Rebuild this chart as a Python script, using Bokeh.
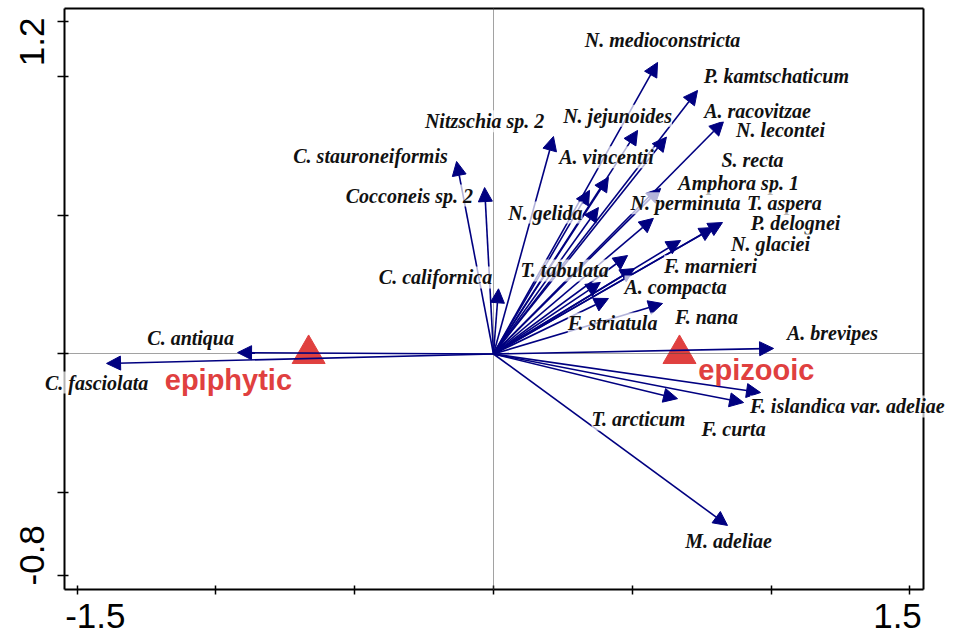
from bokeh.plotting import figure
from bokeh.models import (Arrow, NormalHead, ColumnDataSource, LabelSet,
                          Range1d, FixedTicker, LinearAxis)
from bokeh.core.properties import value
from bokeh.embed import file_html
from bokeh.resources import INLINE
import math

# ---------------- data ----------------
species = ["C. fasciolata", "C. antiqua", "C. stauroneiformis", "Cocconeis sp. 2",
           "C. californica", "Nitzschia sp. 2", "N. medioconstricta", "P. kamtschaticum",
           "A. racovitzae", "N. lecontei", "N. jejunoides", "A. vincentii", "N. gelida",
           "Amphora sp. 1", "S. recta", "N. perminuta", "T. aspera", "P. delognei",
           "N. glaciei", "F. marnieri", "T. tabulata", "A. compacta", "F. striatula",
           "F. nana", "A. brevipes", "F. islandica var. adeliae", "F. curta",
           "T. arcticum", "M. adeliae"]
axis1 = [-1.394, -0.922, -0.133, -0.032, 0.018, 0.216, 0.591, 0.735,
         0.829, 0.623, 0.519, 0.414, 0.346,
         0.602, 0.576, 0.378, 0.793, 0.825,
         0.674, 0.508, 0.483, 0.414, 0.385,
         0.609, 1.009, 0.962, 0.901,
         0.663, 0.843]
axis2 = [-0.034, 0.005, 0.694, 0.600, 0.235, 0.784, 1.051, 0.950,
         0.839, 0.782, 0.806, 0.637, 0.590,
         0.597, 0.489, 0.528, 0.456, 0.474,
         0.409, 0.308, 0.355, 0.200, 0.258,
         0.182, 0.020, -0.139, -0.175,
         -0.161, -0.618]

groups = ["epiphytic", "epizooic"]
group_x = [-0.666, 0.670]
group_y = [0.0, 0.0]

x_ticks = [-1.5, -1.0, -0.5, 0.0, 0.5, 1.0, 1.5]
y_ticks = [-0.8, -0.5, 0.0, 0.5, 1.0, 1.2]
x_tick_labels = ["-1.5", "1.5"]
x_tick_label_at = [-1.5, 1.5]
y_tick_labels = ["-0.8", "1.2"]
y_tick_label_at = [-0.8, 1.2]

# ---------------- layout / styles ----------------
label_x = [-1.430, -1.091, -0.443, -0.303, -0.209, -0.032, 0.609, 1.019,
           0.951, 1.034, 0.447, 0.407, 0.187,
           0.883, 0.933, 0.692, 1.048, 1.088,
           0.998, 0.782, 0.256, 0.656, 0.429,
           0.767, 1.221, 1.275, 0.865,
           0.522, 0.847]
label_y = [-0.103, 0.056, 0.715, 0.571, 0.276, 0.839, 1.131, 1.001,
           0.876, 0.806, 0.859, 0.709, 0.510,
           0.618, 0.698, 0.543, 0.543, 0.471,
           0.395, 0.316, 0.301, 0.243, 0.110,
           0.135, 0.074, -0.189, -0.272,
           -0.236, -0.673]
group_label_x = [-0.955, 0.947]
group_label_y = [-0.095, -0.056]

BOX_L, BOX_R, BOX_B, BOX_T = -1.5454, 1.549, -0.8479, 1.2466
NAVY = "#000080"
RED = "#e0403f"

p = figure(width=950, height=636, output_backend="svg", toolbar_location=None,
           x_range=Range1d(-1.776, 1.6463), y_range=Range1d(-1.0184, 1.2743),
           x_axis_location=None, y_axis_location=None, min_border=0,
           background_fill_color="white", border_fill_color="white")
p.grid.visible = False
p.outline_line_color = None


def box_axis(cls, loc, bounds, ticks=(), tin=0, tout=0, dash="solid",
             color="black", width=2):
    ticks = list(ticks)
    return cls(fixed_location=loc, bounds=bounds,
               ticker=FixedTicker(ticks=ticks, minor_ticks=[]),
               major_label_overrides={t: "" for t in ticks},
               major_label_standoff=0,
               axis_line_color=color, axis_line_width=width, axis_line_dash=dash,
               major_tick_in=tin, major_tick_out=tout, major_tick_line_width=1.5,
               major_tick_line_color="black", minor_tick_line_color=None)


# dotted zero lines
p.add_layout(box_axis(LinearAxis, 0.0, (BOX_L, BOX_R), dash="1 1",
                      color="#444444", width=1), "below")
p.add_layout(box_axis(LinearAxis, 0.0, (BOX_B, BOX_T), dash="1 1",
                      color="#444444", width=1), "left")
# frame with ticks
p.add_layout(box_axis(LinearAxis, BOX_B, (BOX_L, BOX_R), x_ticks, 4, 5), "below")
p.add_layout(box_axis(LinearAxis, BOX_T, (BOX_L, BOX_R)), "above")
p.add_layout(box_axis(LinearAxis, BOX_L, (BOX_B, BOX_T), y_ticks, 4, 7), "left")
p.add_layout(box_axis(LinearAxis, BOX_R, (BOX_B, BOX_T)), "right")

# tick labels, aligned inward as in the original
XSHIFT, YBASE, YLAB_X = 0.043, -0.943, -1.664
p.text(x=[t - XSHIFT if t < 0 else t + XSHIFT for t in x_tick_label_at],
       y=[YBASE] * len(x_tick_label_at), text=x_tick_labels,
       text_align=["left" if t < 0 else "right" for t in x_tick_label_at],
       text_baseline="alphabetic", text_font=value("Liberation Sans"),
       text_font_size="35px", text_color="black")
p.text(x=[YLAB_X] * len(y_tick_label_at),
       y=[t - 0.0345 if t < 0 else t + 0.013 for t in y_tick_label_at],
       text=y_tick_labels, angle=math.pi / 2,
       text_align=["left" if t < 0 else "right" for t in y_tick_label_at],
       text_baseline="alphabetic", text_font=value("Liberation Sans"),
       text_font_size="35px", text_color="black")

# group centroids
p.scatter(x=group_x, y=group_y, marker="triangle", size=33, color=RED)

# species arrows
n = len(species)
arr_src = ColumnDataSource(dict(x0=[0.0] * n, y0=[0.0] * n, x1=axis1, y1=axis2))
p.add_layout(Arrow(end=NormalHead(size=14, fill_color=NAVY, line_color=NAVY, line_width=1),
                   x_start="x0", y_start="y0", x_end="x1", y_end="y1",
                   source=arr_src, line_color=NAVY, line_width=1.6))

# species labels
lab_src = ColumnDataSource(dict(x=label_x, y=label_y, text=species))
p.add_layout(LabelSet(x="x", y="y", text="text", source=lab_src,
                      text_align="center", text_baseline="middle",
                      text_font=value("Liberation Serif"), text_font_style="bold italic",
                      text_font_size="20px", text_color="#111111",
                      background_fill_color="white", background_fill_alpha=0.7))

# group labels
grp_src = ColumnDataSource(dict(x=group_label_x, y=group_label_y, text=groups))
p.add_layout(LabelSet(x="x", y="y", text="text", source=grp_src,
                      text_align="center", text_baseline="middle",
                      text_font=value("Liberation Sans"), text_font_style="bold",
                      text_font_size="29px", text_color=RED))

open("out.html", "w").write(file_html(p, INLINE))
